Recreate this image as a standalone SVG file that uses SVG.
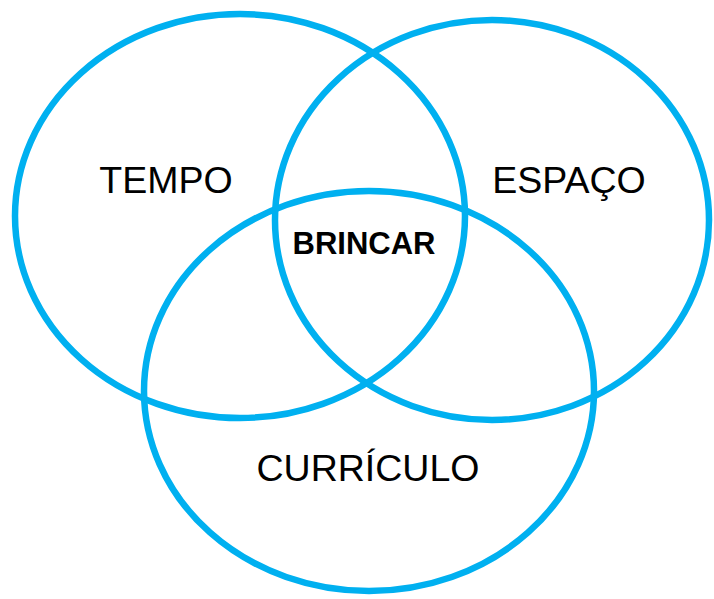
<svg xmlns="http://www.w3.org/2000/svg" width="714" height="599" viewBox="0 0 714 599">
<style>
.c{fill:none;stroke:#00B0F0;stroke-width:6.5}
.t{font-family:"Liberation Sans",Arial,sans-serif;font-size:37.5px;fill:#000;text-anchor:middle}
.b{font-family:"Liberation Sans",Arial,sans-serif;font-size:31px;font-weight:bold;fill:#000;text-anchor:middle}
</style>
<rect width="714" height="599" fill="#fff"/>
<g id="tempo">
<ellipse class="c" cx="240" cy="216" rx="225" ry="202"/>
<text class="t" x="166" y="193">TEMPO</text>
</g>
<g id="espaco">
<ellipse class="c" cx="492" cy="220" rx="217" ry="200"/>
<text class="t" x="569" y="193">ESPAÇO</text>
</g>
<g id="curriculo">
<ellipse class="c" cx="369" cy="391" rx="225" ry="200"/>
<text class="t" x="368" y="481">CURRÍCULO</text>
</g>
<g id="brincar">
<text class="b" x="364" y="254">BRINCAR</text>
</g>
<g id="connectors"/>
</svg>
